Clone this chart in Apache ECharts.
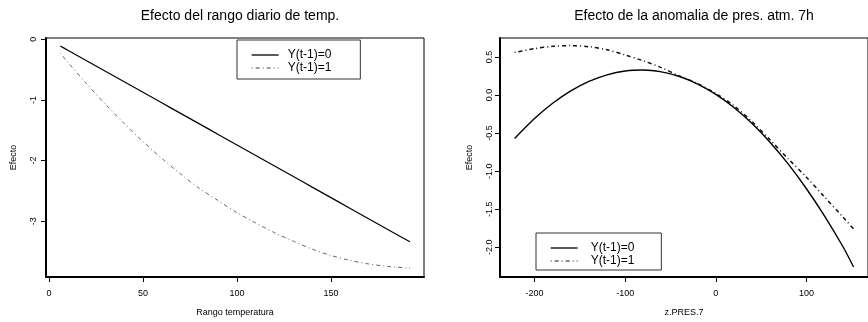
<!DOCTYPE html>
<html><head><meta charset="utf-8">
<script src="https://cdn.jsdelivr.net/npm/echarts@6/dist/echarts.min.js"></script>
<style>html,body{margin:0;padding:0;background:#fff}#c{width:868px;height:322px}</style>
</head><body><div id="c"></div>
<script>
// ---- data ----
const seriesNames = ['Y(t-1)=0', 'Y(t-1)=1'];
const titles = ['Efecto del rango diario de temp.', 'Efecto de la anomalia de pres. atm. 7h'];
const xNames = ['Rango temperatura', 'z.PRES.7'];
const yName = 'Efecto';

const tempX  = [6, 10, 20, 30, 40, 50, 60, 70, 80, 90, 100, 110, 120, 130, 140, 150, 160, 170, 180, 192];
const tempY0 = [-0.11, -0.18, -0.353, -0.527, -0.701, -0.874, -1.048, -1.222, -1.395, -1.569, -1.743, -1.916, -2.090, -2.264, -2.438, -2.611, -2.785, -2.959, -3.132, -3.340];
const tempY1 = [-0.23, -0.38, -0.735, -1.072, -1.389, -1.686, -1.964, -2.222, -2.459, -2.66, -2.86, -3.03, -3.19, -3.33, -3.46, -3.565, -3.645, -3.705, -3.745, -3.775];

const presX  = [-222, -200, -180, -160, -140, -120, -100, -80, -60, -40, -20, 0, 20, 40, 60, 80, 100, 120, 140, 152];
const presY0 = [-0.570, -0.308, -0.108, 0.054, 0.179, 0.266, 0.317, 0.330, 0.305, 0.244, 0.145, 0.009, -0.164, -0.375, -0.623, -0.908, -1.231, -1.590, -1.987, -2.26];
const presY1 = [0.56, 0.61, 0.64, 0.65, 0.635, 0.595, 0.527, 0.45, 0.36, 0.25, 0.15, 0.02, -0.14, -0.35, -0.59, -0.84, -1.08, -1.34, -1.60, -1.76];

const tempXTicks = [0, 50, 100, 150];
const tempYTicks = [0, -1, -2, -3];
const presXTicks = [-200, -100, 0, 100];
const presYTicks = [0.5, 0, -0.5, -1, -1.5, -2];

// ---- chart ----
const FONT = '"Liberation Sans", Arial, Helvetica, sans-serif';
const pairs = (xs, ys) => xs.map((x, i) => [x, ys[i]]);
const chart = echarts.init(document.getElementById('c'), null, {renderer: 'canvas'});

function xAxis(idx, min, max, ticks, name) {
  return {
    type: 'value', gridIndex: idx, min: min, max: max,
    name: name, nameLocation: 'middle', nameGap: 31,
    nameTextStyle: {fontSize: 9, color: '#000', fontFamily: FONT},
    axisLine: {show: true, onZero: false, lineStyle: {color: '#000', width: 2}},
    axisTick: {show: true, length: 5, customValues: ticks, lineStyle: {color: '#000', width: 1}},
    axisLabel: {customValues: ticks, fontSize: 9, color: '#000', margin: 12, fontFamily: FONT},
    splitLine: {show: false}
  };
}
function yAxis(idx, min, max, ticks, margin, fmt, gap) {
  return {
    type: 'value', gridIndex: idx, min: min, max: max,
    name: yName, nameLocation: 'middle', nameRotate: 90, nameGap: gap,
    nameTextStyle: {fontSize: 9, color: '#000', fontFamily: FONT},
    axisLine: {show: true, onZero: false, lineStyle: {color: '#000', width: 2}},
    axisTick: {show: true, length: 5, customValues: ticks, lineStyle: {color: '#000', width: 1}},
    axisLabel: {customValues: ticks, rotate: 90, fontSize: 9, color: '#000', margin: margin, fontFamily: FONT, formatter: fmt},
    splitLine: {show: false}
  };
}

const dashPat = [1, 3, 4, 3];
const leftDash = {color: '#555', width: 0.9, type: dashPat};
const rightDash = {color: '#111', width: 1.5, type: dashPat};

function legend(left, top, pad, textPad, dashStyle) {
  return {
    orient: 'vertical', left: left, top: top, padding: pad,
    itemWidth: 27, itemHeight: 12, itemGap: 1,
    borderColor: '#333', borderWidth: 1, backgroundColor: '#fff',
    selectedMode: false,
    textStyle: {fontSize: 12, color: '#000', fontFamily: FONT, padding: [0, 0, 0, textPad]},
    data: [
      {name: seriesNames[0], itemStyle: {opacity: 0}, lineStyle: {color: '#000', width: 1.3, type: 'solid'}},
      {name: seriesNames[1], itemStyle: {opacity: 0}, lineStyle: dashStyle}
    ]
  };
}

const option = {
  animation: false,
  backgroundColor: '#fff',
  textStyle: {fontFamily: FONT},
  title: [
    {text: titles[0], left: 235, top: 4, textAlign: 'center', textStyle: {fontSize: 14, fontWeight: 'normal', color: '#000', fontFamily: FONT}},
    {text: titles[1], left: 689, top: 4, textAlign: 'center', textStyle: {fontSize: 14, fontWeight: 'normal', color: '#000', fontFamily: FONT}}
  ],
  grid: [
    {left: 46, top: 38, width: 378, height: 240, show: true, borderColor: '#000', borderWidth: 1, backgroundColor: 'transparent'},
    {left: 500, top: 38, width: 378, height: 240, show: true, borderColor: '#000', borderWidth: 1, backgroundColor: 'transparent'}
  ],
  xAxis: [
    xAxis(0, -1.6, 199.5, tempXTicks, xNames[0]),
    xAxis(1, -238.1, 167.9, presXTicks, xNames[1])
  ],
  yAxis: [
    yAxis(0, -3.92, 0.021, tempYTicks, 8, v => String(v), 28),
    yAxis(1, -2.391, 0.75, presYTicks, 6, v => v.toFixed(1), 26)
  ],
  legend: [
    legend(237, 40, [9, 29, 5, 14], 4, {color: '#444', width: 1, type: dashPat}),
    legend(536, 233, [9, 27, 3, 14], 8, {color: '#111', width: 1.2, type: dashPat})
  ],
  series: [
    {name: seriesNames[0], type: 'line', xAxisIndex: 0, yAxisIndex: 0, data: pairs(tempX, tempY0), showSymbol: false, symbol: 'none', smooth: 0.3, lineStyle: {color: '#000', width: 1.2}, itemStyle: {color: '#000'}},
    {name: seriesNames[1], type: 'line', xAxisIndex: 0, yAxisIndex: 0, data: pairs(tempX, tempY1), showSymbol: false, symbol: 'none', smooth: 0.3, lineStyle: leftDash, itemStyle: {color: '#555'}},
    {name: seriesNames[0], type: 'line', xAxisIndex: 1, yAxisIndex: 1, data: pairs(presX, presY0), showSymbol: false, symbol: 'none', smooth: 0.3, lineStyle: {color: '#000', width: 1.4}, itemStyle: {color: '#000'}},
    {name: seriesNames[1], type: 'line', xAxisIndex: 1, yAxisIndex: 1, data: pairs(presX, presY1), showSymbol: false, symbol: 'none', smooth: 0.3, lineStyle: rightDash, itemStyle: {color: '#111'}}
  ]
};
chart.setOption(option);
</script>
</body></html>
